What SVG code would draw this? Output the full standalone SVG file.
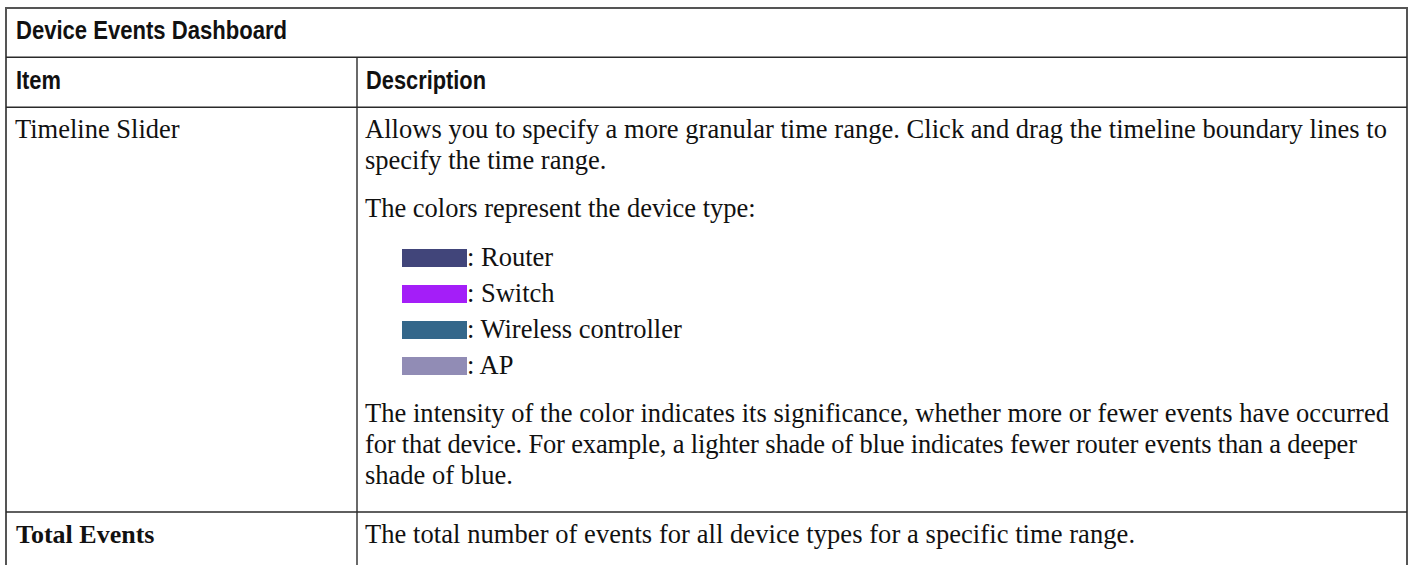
<svg xmlns="http://www.w3.org/2000/svg" width="1409" height="565" viewBox="0 0 1409 565">
<style>
.hd{font-family:"Liberation Sans",Arial,sans-serif;font-weight:bold;font-size:25px;fill:#111}
.tx{font-family:"Liberation Serif","Times New Roman",serif;font-size:26.5px;fill:#111}
.bd{font-family:"Liberation Serif","Times New Roman",serif;font-size:26px;font-weight:bold;fill:#111}
.ln{stroke:#2a2a2a;stroke-width:1.4;fill:none}
.ob{stroke:#555;stroke-width:2;fill:none}
</style>
<rect x="0" y="0" width="1409" height="565" fill="#fff"/>
<g id="grid">
<line class="ob" x1="6" y1="8" x2="1407" y2="8"/>
<line class="ob" x1="6" y1="7" x2="6" y2="565"/>
<line class="ob" x1="1407" y1="7" x2="1407" y2="565"/>
<line class="ln" x1="6" y1="57.3" x2="1407" y2="57.3"/>
<line class="ln" x1="6" y1="107.3" x2="1407" y2="107.3"/>
<line class="ln" x1="6" y1="512" x2="1407" y2="512"/>
<line class="ln" x1="357" y1="57.3" x2="357" y2="565"/>
</g>
<g id="title">
<text class="hd" x="16" y="39" textLength="271" lengthAdjust="spacingAndGlyphs">Device Events Dashboard</text>
</g>
<g id="header">
<text class="hd" x="16" y="89.3" textLength="45" lengthAdjust="spacingAndGlyphs">Item</text>
<text class="hd" x="366" y="89.3" textLength="120" lengthAdjust="spacingAndGlyphs">Description</text>
</g>
<g id="row-timeline">
<text class="tx" x="15" y="137.5">Timeline Slider</text>
<text class="tx" x="365" y="138" textLength="1022" lengthAdjust="spacing">Allows you to specify a more granular time range. Click and drag the timeline boundary lines to</text>
<text class="tx" x="365" y="169">specify the time range.</text>
<text class="tx" x="365" y="217">The colors represent the device type:</text>
<rect x="402" y="249" width="65" height="18" fill="#41457a"/>
<text class="tx" x="467" y="266">: Router</text>
<rect x="402" y="285" width="65" height="18" fill="#a41ef8"/>
<text class="tx" x="467" y="302">: Switch</text>
<rect x="402" y="321" width="65" height="18" fill="#34678a"/>
<text class="tx" x="467" y="338">: Wireless controller</text>
<rect x="402" y="357" width="65" height="18" fill="#918cb5"/>
<text class="tx" x="467" y="374">: AP</text>
<text class="tx" x="365" y="422" textLength="1024" lengthAdjust="spacing">The intensity of the color indicates its significance, whether more or fewer events have occurred</text>
<text class="tx" x="365" y="452.5" textLength="992" lengthAdjust="spacing">for that device. For example, a lighter shade of blue indicates fewer router events than a deeper</text>
<text class="tx" x="365" y="484">shade of blue.</text>
</g>
<g id="row-total">
<text class="bd" x="16" y="543">Total Events</text>
<text class="tx" x="365" y="543" textLength="770" lengthAdjust="spacing">The total number of events for all device types for a specific time range.</text>
</g>
</svg>
